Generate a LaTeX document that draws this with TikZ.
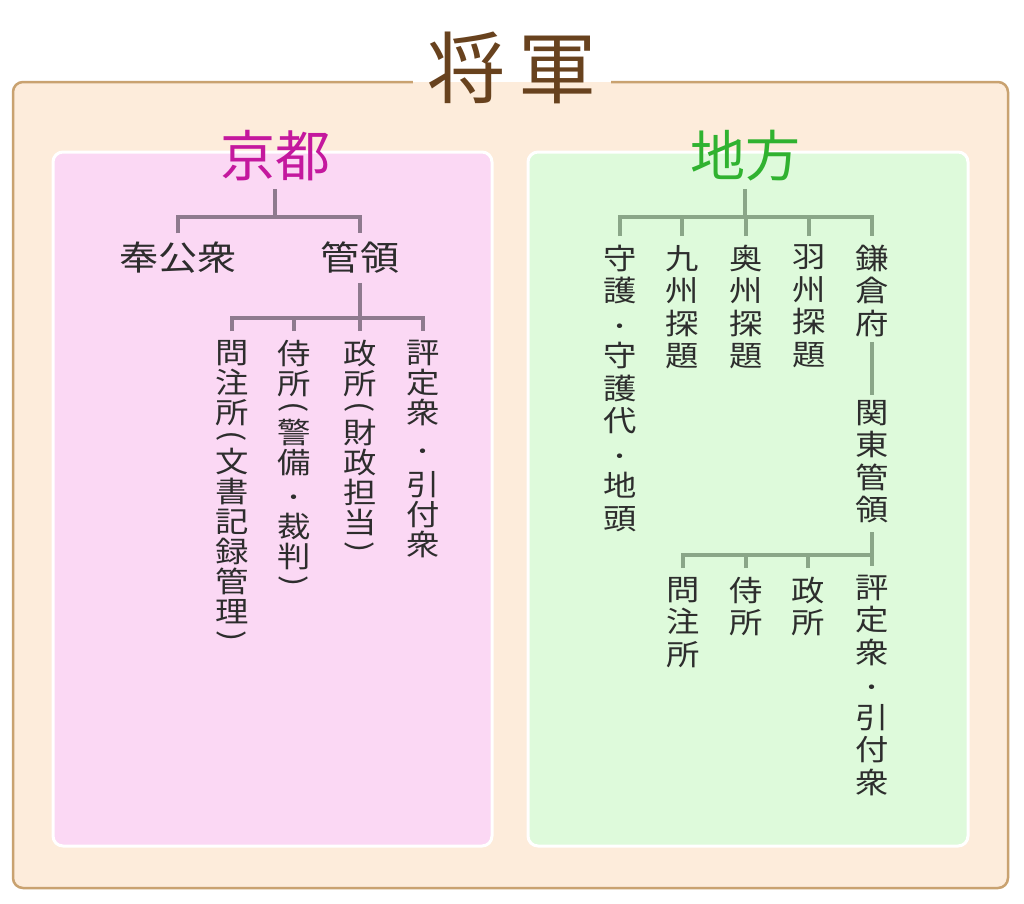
\documentclass[tikz,border=0pt]{standalone}
\usepackage{fontspec}
\usepackage{graphicx}
\setmainfont{Noto Sans CJK JP}[FakeStretch=1.15]
\newfontfamily\headfont{Noto Sans CJK JP}
\usetikzlibrary{positioning}
\definecolor{peach}{RGB}{253,236,219}
\definecolor{frame}{RGB}{201,162,112}
\definecolor{pinkbg}{RGB}{251,216,244}
\definecolor{greenbg}{RGB}{222,250,219}
\definecolor{shogunc}{RGB}{104,66,30}
\definecolor{kyotoc}{RGB}{196,24,158}
\definecolor{chihoc}{RGB}{48,178,48}
\definecolor{kline}{RGB}{142,122,142}
\definecolor{cline}{RGB}{138,166,136}
\definecolor{txt}{RGB}{45,45,45}
% vertical brackets
\newcommand{\vlp}{\raisebox{16pt}{\rotatebox{-90}{(}}}
\newcommand{\vrp}{\raisebox{16pt}{\rotatebox{-90}{)}}}
\newcommand{\vdot}{\scalebox{0.75}{・}}
\begin{document}
\begin{tikzpicture}[x=1pt,y=-1pt,
    head/.style={inner sep=0pt,outer ysep=8pt,font=\headfont\fontsize{55}{55}\selectfont},
    item/.style={inner sep=0pt,outer ysep=9pt,text=txt,font=\fontsize{29}{30}\selectfont,align=center},
    ritem/.style={item,font=\fontsize{29}{32.5}\selectfont},
    kedge/.style={draw=kline,line width=3.2pt},
    cedge/.style={draw=cline,line width=3.2pt}]
    \useasboundingbox (0,0) rectangle (1024,903);
    \fill[white] (0,0) rectangle (1024,903);

    % outer frame with the title
    \fill[peach,rounded corners=10pt] (13,82) rectangle (1008,888);
    \node[inner xsep=14pt,inner ysep=0pt,text=shogunc,font=\headfont\fontsize{78}{78}\selectfont] (shogun) at (512,68) {将\hspace{14pt}軍};
    \coordinate (ftop) at (0,82);
    \draw[frame,line width=2.5pt,rounded corners=10pt] (shogun.west |- ftop) -- (13,82) -- (13,888) -- (1008,888) -- (1008,82) -- (shogun.east |- ftop);

    \draw[fill=pinkbg,draw=white,line width=3pt,rounded corners=10pt] (53,152) rectangle (492,846);
    \draw[fill=greenbg,draw=white,line width=3pt,rounded corners=10pt] (528,152) rectangle (968,846);

    % kyoto
    \node[head,text=kyotoc] (kyoto) at (275,156) {京都};
    \node[item,font=\fontsize{34}{34}\selectfont] (hokoshu) at (178,258) {奉公衆};
    \node[item,font=\fontsize{34}{34}\selectfont] (kanrei) at (360,258) {管領};
    \node[item,anchor=north] (monchujo) at (232,331) {問\\注\\所\\[-7pt]\vlp\\[-4pt]文\\書\\記\\録\\管\\理\\[-6pt]\vrp};
    \node[item,anchor=north] (samurai) at (294,331) {侍\\所\\[-7pt]\vlp\\[-4pt]警\\備\\[2pt]\vdot\\[2pt]裁\\判\\[-6pt]\vrp};
    \node[item,anchor=north] (mandokoro) at (360,331) {政\\所\\[-7pt]\vlp\\[-4pt]財\\政\\担\\当\\[-6pt]\vrp};
    \node[item,anchor=north] (hyojo) at (423,331) {評\\定\\衆\\[6pt]\vdot\\[6pt]引\\付\\衆};

    \coordinate (kbarA) at (0,217);
    \coordinate (kbarB) at (0,318);
    \draw[kedge] (kyoto.south) -- (kyoto.south |- kbarA);
    \draw[kedge] (hokoshu.north) |- (kanrei.north |- kbarA) -- (kanrei.north);
    \draw[kedge] (kanrei.south) -- (kanrei.south |- kbarB);
    \draw[kedge] (monchujo.north) |- (hyojo.north |- kbarB) -- (hyojo.north);
    \draw[kedge] (samurai.north) -- (samurai.north |- kbarB);
    \draw[kedge] (mandokoro.north) -- (mandokoro.north |- kbarB);

    % chiho
    \node[head,text=chihoc] (chiho) at (745,156) {地方};
    \node[ritem,anchor=north] (shugo) at (620,236) {守\\護\\\vdot\\守\\護\\代\\\vdot\\地\\頭};
    \node[ritem,anchor=north] (kyushu) at (682,236) {九\\州\\探\\題};
    \node[ritem,anchor=north] (oshu) at (746,236) {奥\\州\\探\\題};
    \node[ritem,anchor=north] (ushu) at (809,236) {羽\\州\\探\\題};
    \node[ritem,anchor=north] (kamakura) at (872,236) {鎌\\倉\\府};
    \node[ritem,anchor=north] (kanto) at (872,391) {関\\東\\管\\領};
    \node[ritem,anchor=north] (kmonchujo) at (683,568) {問\\注\\所};
    \node[ritem,anchor=north] (ksamurai) at (746,568) {侍\\所};
    \node[ritem,anchor=north] (kmandokoro) at (808,568) {政\\所};
    \node[ritem,anchor=north] (khyojo) at (872,566) {評\\定\\衆\\\vdot\\引\\付\\衆};

    \coordinate (cbarA) at (0,217);
    \coordinate (cbarB) at (0,555);
    \draw[cedge] (chiho.south) -- (chiho.south |- cbarA);
    \draw[cedge] (shugo.north) |- (kamakura.north |- cbarA) -- (kamakura.north);
    \draw[cedge] (kyushu.north) -- (kyushu.north |- cbarA);
    \draw[cedge] (oshu.north) -- (oshu.north |- cbarA);
    \draw[cedge] (ushu.north) -- (ushu.north |- cbarA);
    \draw[cedge,shorten <=-4pt,shorten >=-4pt] (kamakura.south) -- (kanto.north);
    \draw[cedge] (kanto.south) -- (kanto.south |- cbarB);
    \draw[cedge] (kmonchujo.north) |- (khyojo.north |- cbarB) -- (khyojo.north);
    \draw[cedge] (ksamurai.north) -- (ksamurai.north |- cbarB);
    \draw[cedge] (kmandokoro.north) -- (kmandokoro.north |- cbarB);
\end{tikzpicture}
\end{document}
